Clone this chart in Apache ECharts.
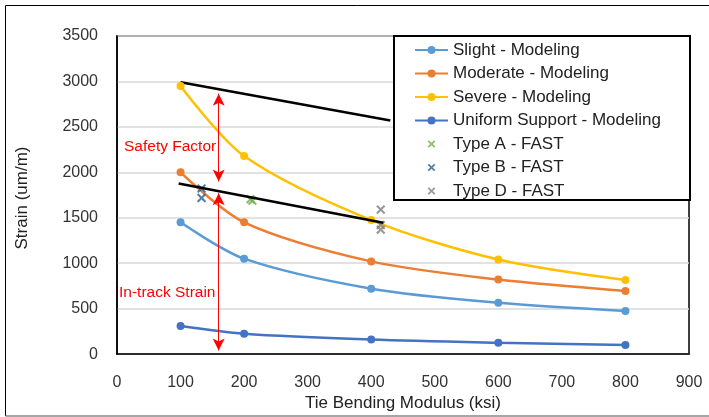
<!DOCTYPE html>
<html>
<head>
<meta charset="utf-8">
<script src="https://cdn.jsdelivr.net/npm/echarts@6/dist/echarts.min.js"></script>
<style>
html,body{margin:0;padding:0;background:#fff;}
#chart{width:709px;height:417px;}
</style>
</head>
<body>
<div id="chart"></div>
<script>
// ---- data ----
const modulus = [100, 200, 400, 600, 800];
const slight = [1450, 1050, 720, 565, 475];
const moderate = [2000, 1450, 1020, 820, 695];
const severe = [2950, 2180, 1475, 1040, 815];
const uniform = [310, 225, 160, 125, 100];
const typeA = [[210, 1705], [213, 1688]];
const typeB = [[133, 1822], [133, 1718]];
const typeD = [[415, 1590], [415, 1420], [415, 1370]];
const upperLine = [[100, 2990], [430, 2570]];
const lowerLine = [[97, 1877], [419, 1446]];
const safetyArrow = [[160, 2865], [160, 1900]];
const strainArrow = [[160, 1770], [160, 40]];
const xTicks = {min: 0, max: 900, step: 100};
const yTicks = {min: 0, max: 3500, step: 500};

const FONT = 'Liberation Sans';
// X marker (padded so the cross fills ~80% of the symbol box)
const xPath = 'path://M-1.5,-1.5 M11.5,11.5 M0,1.6 L1.6,0 L5,3.4 L8.4,0 L10,1.6 L6.6,5 L10,8.4 L8.4,10 L5,6.6 L1.6,10 L0,8.4 L3.4,5 Z';

function pairs(xs, ys) { return xs.map((x, i) => [x, ys[i]]); }

function lineSeries(name, color, ys) {
  return {
    name, type: 'line', data: pairs(modulus, ys), smooth: 0.3,
    symbol: 'circle', symbolSize: 8, color,
    lineStyle: {width: 2.5, color}, itemStyle: {color}, z: 2
  };
}
function xSeries(name, color, data) {
  return {name, type: 'scatter', data, symbol: xPath, symbolSize: 12, itemStyle: {color}, z: 3};
}

const chart = echarts.init(document.getElementById('chart'));
chart.setOption({
  animation: false,
  backgroundColor: '#fff',
  textStyle: {fontFamily: FONT},
  grid: {left: 117, top: 36, right: 20, bottom: 56, show: true, borderColor: '#000', borderWidth: 1.5},
  xAxis: {
    type: 'value', min: xTicks.min, max: xTicks.max, interval: xTicks.step,
    name: 'Tie Bending Modulus (ksi)', nameLocation: 'middle', nameGap: 33,
    nameTextStyle: {fontSize: 17, color: '#222', fontFamily: FONT},
    axisLine: {show: true, lineStyle: {color: '#000', width: 1.5}}, axisTick: {show: false},
    axisLabel: {fontSize: 16, color: '#333', margin: 20, fontFamily: FONT},
    splitLine: {show: false}
  },
  yAxis: {
    type: 'value', min: yTicks.min, max: yTicks.max, interval: yTicks.step,
    axisLine: {show: true, lineStyle: {color: '#000', width: 1.5}}, axisTick: {show: false},
    axisLabel: {fontSize: 16, color: '#333', margin: 19, fontFamily: FONT, formatter: v => String(v)},
    splitLine: {show: true, lineStyle: {color: '#d9d9d9', width: 1.5}}
  },
  legend: {
    orient: 'vertical', left: 414, top: 40, padding: 0,
    itemWidth: 33, itemHeight: 10, itemGap: 3.5,
    textStyle: {fontSize: 17, color: '#222', lineHeight: 20, fontFamily: FONT},
    data: ['Slight - Modeling', 'Moderate - Modeling', 'Severe - Modeling', 'Uniform Support - Modeling',
           'Type A - FAST', 'Type B - FAST', 'Type D - FAST'],
    z: 10
  },
  graphic: [
    {type: 'line', shape: {x1: 5.5, y1: 5.5, x2: 709, y2: 5.5}, style: {stroke: '#000', lineWidth: 1}},
    {type: 'line', shape: {x1: 5.5, y1: 5.5, x2: 5.5, y2: 416}, style: {stroke: '#000', lineWidth: 1}},
    {type: 'line', shape: {x1: 5.5, y1: 416, x2: 709, y2: 416}, style: {stroke: '#888', lineWidth: 1.5}},
    {type: 'rect', shape: {x: 394, y: 36, width: 296, height: 164}, style: {fill: '#fff', stroke: '#000', lineWidth: 2}, z: 5},
    {type: 'text', x: 22, y: 198, rotation: Math.PI / 2,
     style: {text: 'Strain (um/m)', fontSize: 17, fill: '#222', fontFamily: FONT, align: 'center', verticalAlign: 'middle'}},
    {type: 'text', x: 124, y: 147,
     style: {text: 'Safety Factor', fontSize: 15.5, fill: '#ff0000', fontFamily: FONT, align: 'left', verticalAlign: 'middle'}, z: 6},
    {type: 'text', x: 119, y: 293,
     style: {text: 'In-track Strain', fontSize: 15.5, fill: '#ff0000', fontFamily: FONT, align: 'left', verticalAlign: 'middle'}, z: 6}
  ],
  series: [
    lineSeries('Slight - Modeling', '#5B9BD5', slight),
    lineSeries('Moderate - Modeling', '#ED7D31', moderate),
    lineSeries('Severe - Modeling', '#FFC000', severe),
    lineSeries('Uniform Support - Modeling', '#4472C4', uniform),
    xSeries('Type A - FAST', '#70AD47', typeA),
    xSeries('Type B - FAST', '#255E91', typeB),
    xSeries('Type D - FAST', '#7F7F7F', typeD),
    {name: 'upper', type: 'line', data: upperLine, symbol: 'none', lineStyle: {color: '#000', width: 2.5}, color: '#000', silent: true, z: 2},
    {name: 'lower', type: 'line', data: lowerLine, symbol: 'none', lineStyle: {color: '#000', width: 2.5}, color: '#000', silent: true, z: 4},
    {name: 'arrows', type: 'line', data: [], silent: true, z: 4,
     markLine: {
       silent: true, symbol: ['arrow', 'arrow'], symbolSize: [9, 12],
       lineStyle: {color: '#ff0000', width: 1, type: 'solid'}, label: {show: false},
       data: [
         [{coord: safetyArrow[0]}, {coord: safetyArrow[1]}],
         [{coord: strainArrow[0]}, {coord: strainArrow[1]}]
       ]
     }}
  ]
});
</script>
</body>
</html>
